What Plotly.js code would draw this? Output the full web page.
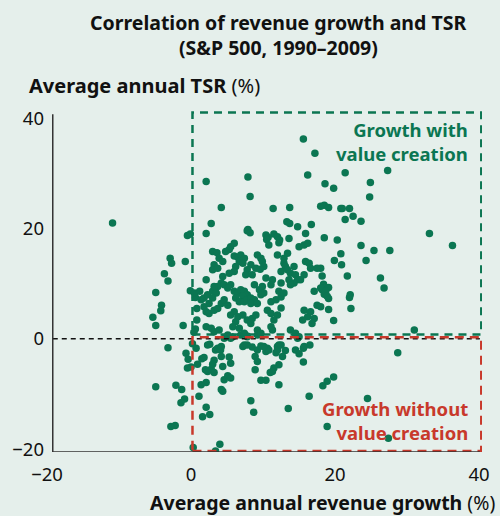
<!DOCTYPE html>
<html><head><meta charset="utf-8">
<script src="https://cdn.plot.ly/plotly-3.0.1.min.js"></script>
<style>html,body{margin:0;padding:0;background:#e5efeb;}#chart{width:500px;height:516px;}</style>
</head><body><div id="chart"></div>
<script>
// Average annual revenue growth (%) and average annual TSR (%), one pair per company
const revenueGrowth = [
-10.9,15.6,17.2,2.1,7.9,8.2,16.2,18.6,19.8,4.2,11.4,13.7,18.0,18.5,19.1,20.8,2.8,13.3,13.7,14.8,
16.7,7.9,21.4,27.3,24.9,24.8,21.0,22.0,21.4,22.5,23.6,18.5,20.3,33.1,36.3,23.6,25.4,27.6,20.8,19.9,
20.9,24.3,18.0,18.2,21.7,26.3,26.8,18.4,19.1,18.2,18.5,22.1,22.0,19.1,19.1,22.2,19.8,31.0,28.7,19.8,
18.9,18.3,24.5,18.9,27.4,-0.5,-0.1,-2.9,-2.7,-0.8,-3.7,-3.2,-4.9,-0.1,-4.1,-4.2,-5.3,-4.9,-1.1,0.6,
0.8,0.8,0.6,-3.2,0.2,0.7,-0.7,-0.4,-0.5,0.0,0.9,-4.9,-2.1,-1.3,-0.9,-1.4,1.1,-2.8,-2.2,0.3,
2.1,1.6,2.6,8.3,8.7,13.5,4.0,3.4,2.6,1.5,1.8,2.3,2.8,3.2,2.0,3.4,3.7,4.1,3.2,3.0,
4.2,4.4,5.3,5.5,4.6,5.1,5.5,1.4,2.1,4.2,4.4,7.2,7.4,8.5,9.2,9.7,10.6,10.4,10.8,8.9,
9.2,8.9,12.0,12.2,11.8,12.0,13.1,12.7,14.5,15.0,15.6,16.5,15.6,12.2,11.5,11.0,11.3,9.7,10.4,12.2,
16.4,5.8,6.9,7.8,9.2,14.5,14.8,2.1,7.8,8.2,10.4,10.7,10.5,11.5,12.0,12.3,10.8,12.2,13.6,15.9,
15.0,15.7,16.2,5.5,6.0,5.3,4.8,3.0,3.6,3.9,4.4,3.2,3.0,3.7,6.0,6.5,6.9,7.4,6.7,7.2,
6.2,6.0,5.3,9.2,9.7,9.9,10.1,9.6,9.0,8.3,7.8,7.6,8.5,12.0,12.9,13.4,12.9,13.1,12.5,13.4,
13.8,14.5,14.3,15.9,16.4,16.6,17.5,14.8,14.3,2.1,4.4,4.2,3.7,4.6,0.5,1.2,1.4,1.8,2.3,3.0,
3.2,3.5,3.0,2.5,1.8,2.1,2.5,3.2,3.7,4.2,4.6,5.1,6.0,6.5,6.9,7.4,7.8,7.2,6.2,6.7,
7.4,7.8,8.3,8.8,8.3,9.2,8.8,9.5,9.9,10.1,9.7,11.1,11.8,12.5,12.2,12.9,10.6,11.1,12.0,12.5,
11.5,5.5,6.0,6.5,7.2,7.8,8.3,8.5,9.0,6.2,5.8,6.7,11.1,11.3,13.8,14.5,15.0,15.7,16.6,16.2,
17.1,15.5,16.8,17.5,18.0,17.1,18.0,18.7,18.9,15.7,15.2,13.6,13.8,10.4,11.3,11.1,12.5,5.5,5.1,0.4,
2.1,2.8,3.2,3.9,4.6,5.1,5.5,9.2,9.7,7.4,7.8,2.3,4.2,7.8,10.1,12.5,15.7
];
const tsr = [
21.0,36.2,33.6,28.5,29.3,25.8,29.7,28.1,27.3,23.8,23.6,23.8,24.0,24.2,23.8,23.6,20.9,21.2,20.9,20.3,
20.7,19.8,30.1,30.5,28.3,25.7,23.6,23.6,21.6,22.2,21.3,18.3,17.9,19.1,16.9,16.9,16.0,16.0,15.4,14.2,
13.4,14.2,12.8,11.4,11.4,11.0,9.2,9.9,9.3,8.9,8.1,8.0,7.5,7.3,5.3,5.5,3.3,1.6,-2.5,-6.9,
-7.7,-8.5,-10.8,-15.9,-18.0,18.7,19.0,14.6,13.7,14.0,11.8,10.5,8.4,8.7,6.1,5.1,3.9,2.4,2.4,7.5,
5.5,3.4,1.8,-1.6,-0.9,-1.7,-2.6,-3.7,-5.3,-5.1,-4.6,-8.7,-8.4,-9.2,-10.9,-11.6,-10.4,-15.9,-15.7,-19.7,
-12.4,-14.1,-13.7,-11.2,-13.3,-12.6,-19.1,-20.3,-1.0,-3.6,-3.4,-5.9,-5.5,-6.1,-5.6,-2.0,-1.7,-2.0,-3.9,-4.6,
-3.2,-5.0,-3.3,-4.4,-7.4,-6.7,-7.1,-8.3,-7.9,-9.2,-9.5,-1.4,-1.1,-1.5,-2.0,-1.3,-1.7,-2.3,-2.0,-3.2,
-4.1,-5.6,-1.4,-1.1,-2.5,-2.0,-2.1,-3.2,-2.0,-2.7,-1.7,-1.1,-4.2,-4.7,-5.3,-6.1,-5.9,-7.5,-7.5,-8.3,
-10.4,0.4,0.7,0.5,0.7,0.7,0.1,19.1,19.6,19.2,18.8,18.4,18.0,19.0,18.5,17.9,17.0,17.4,18.2,19.1,
16.7,17.0,17.3,16.7,17.3,16.2,15.8,15.8,15.6,14.6,14.0,13.4,12.5,12.8,15.0,14.8,15.2,14.6,14.0,13.7,
13.1,12.2,11.9,15.2,14.6,14.0,13.1,12.6,12.8,13.4,12.5,11.6,11.6,15.2,14.6,15.5,13.7,13.1,12.2,12.5,
11.9,11.6,13.1,14.0,13.7,12.8,12.8,10.7,10.1,10.7,11.3,10.1,9.5,9.8,8.3,8.6,7.1,7.4,8.0,8.6,
9.5,8.3,7.4,6.4,5.8,4.9,4.6,5.2,5.5,6.4,7.1,6.1,8.6,8.3,8.9,8.6,8.0,7.7,7.4,6.7,
6.7,7.1,7.4,7.1,6.4,6.4,9.8,8.9,9.5,8.3,8.0,6.7,7.1,7.6,8.6,8.3,5.2,4.6,4.3,5.6,
3.4,4.3,4.9,4.0,4.3,3.4,2.8,3.7,4.3,3.1,2.2,1.9,2.2,1.6,1.6,1.0,0.4,5.2,4.9,4.0,
3.7,3.4,2.8,6.1,5.8,8.6,9.2,8.6,7.7,11.6,10.7,10.7,9.8,11.0,10.7,9.8,10.1,9.8,9.2,1.2,
2.2,1.9,1.3,1.6,0.1,0.7,0.1,1.6,1.0,1.0,0.4,-1.1,-1.4,-1.1,-1.4,-1.1,-1.4
];
const xTicks = [-20, 0, 20, 40];
const yTicks = [-20, 0, 20, 40];

const GREEN = '#0b7652', RED = '#c8392b', INK = '#111111', BG = '#e5efeb';
const FONT = 'Noto Sans, Open Sans, sans-serif';
const L = 47, R = 482, T = 106.6, B = 452.4;
const px = v => (v - L) / (R - L);
const py = v => (B - v) / (B - T);

const trace = {
  type: 'scatter', mode: 'markers', x: revenueGrowth, y: tsr,
  marker: {size: 7.5, color: GREEN, line: {width: 0}}, hoverinfo: 'x+y', showlegend: false
};

const shapes = [
  {type:'line', xref:'x', yref:'y', x0:-19.2, x1:40.1, y0:0, y1:0, line:{color:INK, width:1.5, dash:'5px,4px'}},
  {type:'rect', xref:'x', yref:'y', x0:0.2, x1:40.3, y0:0.8, y1:41, line:{color:GREEN, width:2.5, dash:'8px,6px'}},
  {type:'rect', xref:'x', yref:'y', x0:0.2, x1:40.3, y0:-20.3, y1:0.3, line:{color:RED, width:2.5, dash:'9px,6px'}},
  {type:'line', xref:'x', yref:'y', x0:-19.2, x1:-19.2, y0:-20.5, y1:40.7, line:{color:'#333', width:1.5}},
  {type:'line', xref:'x', yref:'y', x0:-19.2, x1:40.1, y0:-20.5, y1:-20.5, line:{color:'#333', width:1.5}}
];

const ann = (text, x, y, opts) => Object.assign({xref:'paper', yref:'paper', x:px(x), y:py(y), text, showarrow:false,
  font:{family:FONT, size:16, color:INK}, xanchor:'center', yanchor:'middle'}, opts||{});
const f = (size, color) => ({family: FONT, size, color});

const annotations = [
  ann('<b>Correlation of revenue growth and TSR</b>', 278, 22, {font:f(19.5, INK)}),
  ann('<b>(S&P 500, 1990–2009)</b>', 278, 47, {font:f(19.5, INK)}),
  ann('<b>Average annual TSR</b> (%)', 27, 85, {xanchor:'left', font:f(20, INK)}),
  ann('<b>Average annual revenue growth</b> (%)', 497, 503, {xanchor:'right', font:f(19.5, INK)}),
  ann('<b>Growth with<br>value creation</b>', 470, 141, {xanchor:'right', align:'right', font:f(18.5, GREEN)}),
  ann('<b>Growth without<br>value creation</b>', 470, 421, {xanchor:'right', align:'right', font:f(18.5, RED)})
];

const layout = {
  width: 500, height: 516,
  paper_bgcolor: BG, plot_bgcolor: BG,
  margin: {l: L, r: 500 - R, t: T, b: 516 - B, pad: 0},
  font: {family: FONT, size: 18, color: INK},
  xaxis: {range: [-20, 40.4], tickvals: xTicks, ticktext: xTicks.map(v => v < 0 ? '−' + Math.abs(v) : String(v)),
    showgrid: false, zeroline: false, showline: false, ticks: '', ticklabelstandoff: 9,
    tickfont: f(18.5, INK)},
  yaxis: {range: [-20.5, 42], tickvals: yTicks, ticktext: yTicks.map(v => v < 0 ? '−' + Math.abs(v) : String(v)),
    showgrid: false, zeroline: false, showline: false, ticks: '', ticklabelstandoff: 2,
    tickfont: f(18.5, INK)},
  shapes, annotations
};

Plotly.newPlot('chart', [trace], layout, {displayModeBar: false, staticPlot: true});
</script></body></html>
